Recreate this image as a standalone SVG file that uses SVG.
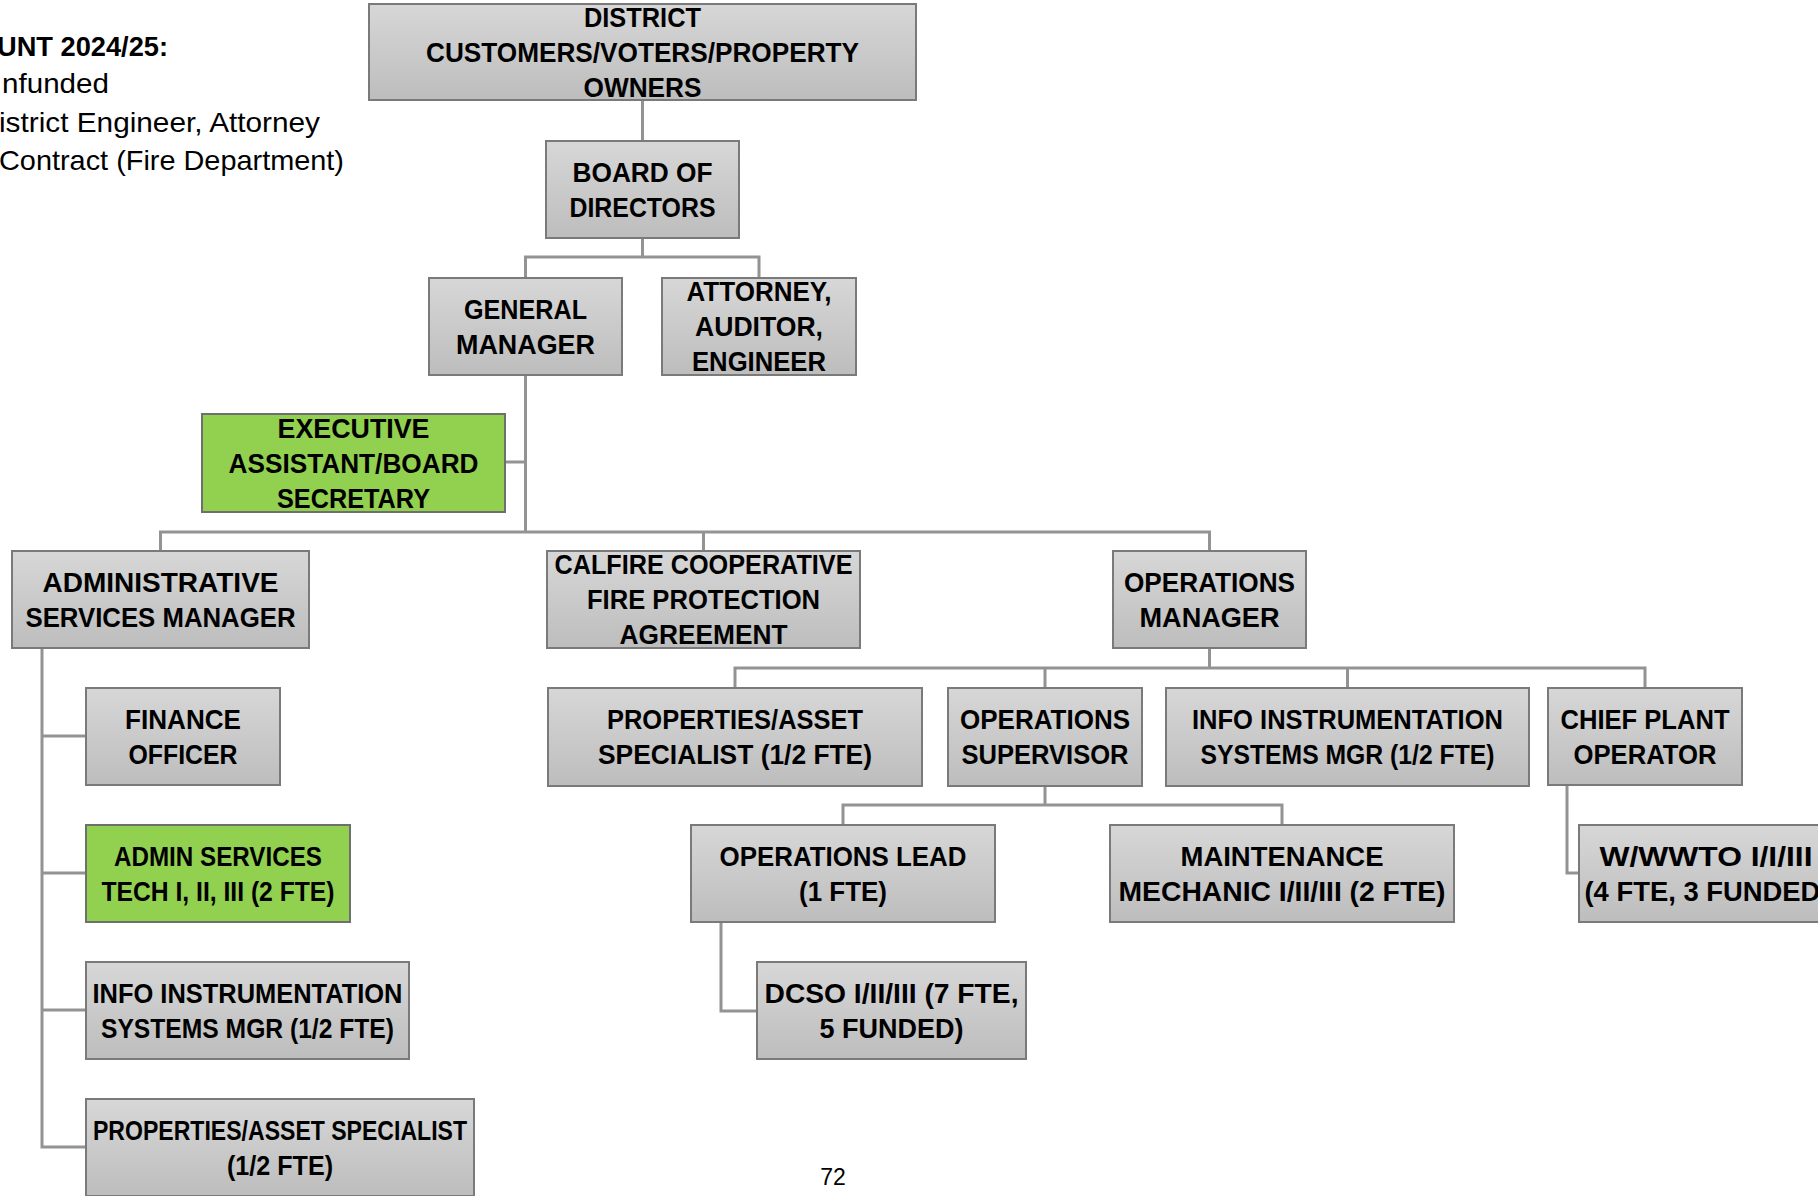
<svg xmlns="http://www.w3.org/2000/svg" width="1818" height="1196" viewBox="0 0 1818 1196">
<defs>
<linearGradient id="g" x1="0" y1="0" x2="0" y2="1">
<stop offset="0" stop-color="#d7d7d7"/>
<stop offset="1" stop-color="#bdbdbd"/>
</linearGradient>
<style>
.box{fill:url(#g);stroke:#7a7a7a;stroke-width:2}
.green{fill:#92d050;stroke:#6f6f6f;stroke-width:2}
.t{font-family:"Liberation Sans",Arial,sans-serif;font-weight:bold;font-size:27px;text-anchor:middle;fill:#000}
.c{fill:none;stroke:#939393;stroke-width:3}
.lg{font-family:"Liberation Sans",Arial,sans-serif;font-size:28px;fill:#000}
</style>
</defs>
<rect width="1818" height="1196" fill="#fff"/>

<g id="legend">
<text class="lg" x="-3" y="56" font-weight="bold" textLength="171" lengthAdjust="spacingAndGlyphs">UNT 2024/25:</text>
<text class="lg" x="2" y="93" textLength="107" lengthAdjust="spacingAndGlyphs">nfunded</text>
<text class="lg" x="-1" y="132" textLength="321" lengthAdjust="spacingAndGlyphs">istrict Engineer, Attorney</text>
<text class="lg" x="-1" y="170" textLength="345" lengthAdjust="spacingAndGlyphs">Contract (Fire Department)</text>
</g>

<g id="connectors">
<path class="c" d="M642.5 100 V141"/>
<path class="c" d="M642.5 238 V257 M525.5 278 V257 H759 V278"/>
<path class="c" d="M525.5 375 V532"/>
<path class="c" d="M505 462 H525.5"/>
<path class="c" d="M160.5 551 V532 H1209.5 V551 M703.5 532 V551"/>
<path class="c" d="M1209.5 648 V668 M735 688 V668 H1645 V688 M1045 668 V688 M1347.5 668 V688"/>
<path class="c" d="M1045 786 V805 M843 825 V805 H1282 V825"/>
<path class="c" d="M42 648 V1147 H86 M42 736 H86 M42 873 H86 M42 1010 H86"/>
<path class="c" d="M1567 785 V873 H1579"/>
<path class="c" d="M721 922 V1011 H757"/>
</g>

<g id="district">
<rect class="box" x="369" y="4" width="547" height="96"/>
<text class="t" x="642.5" y="26.5" textLength="117" lengthAdjust="spacingAndGlyphs">DISTRICT</text>
<text class="t" x="642.5" y="61.5" textLength="433" lengthAdjust="spacingAndGlyphs">CUSTOMERS/VOTERS/PROPERTY</text>
<text class="t" x="642.5" y="96.5" textLength="118" lengthAdjust="spacingAndGlyphs">OWNERS</text>
</g>

<g id="board">
<rect class="box" x="546" y="141" width="193" height="97"/>
<text class="t" x="642.5" y="181.5" textLength="140" lengthAdjust="spacingAndGlyphs">BOARD OF</text>
<text class="t" x="642.5" y="216.5" textLength="146" lengthAdjust="spacingAndGlyphs">DIRECTORS</text>
</g>

<g id="general-manager">
<rect class="box" x="429" y="278" width="193" height="97"/>
<text class="t" x="525.5" y="318.5" textLength="123" lengthAdjust="spacingAndGlyphs">GENERAL</text>
<text class="t" x="525.5" y="353.5" textLength="139" lengthAdjust="spacingAndGlyphs">MANAGER</text>
</g>

<g id="attorney">
<rect class="box" x="662" y="278" width="194" height="97"/>
<text class="t" x="759" y="301" textLength="145" lengthAdjust="spacingAndGlyphs">ATTORNEY,</text>
<text class="t" x="759" y="336" textLength="128" lengthAdjust="spacingAndGlyphs">AUDITOR,</text>
<text class="t" x="759" y="371" textLength="134" lengthAdjust="spacingAndGlyphs">ENGINEER</text>
</g>

<g id="executive-assistant">
<rect class="green" x="202" y="414" width="303" height="98"/>
<text class="t" x="353.5" y="437.5" textLength="152" lengthAdjust="spacingAndGlyphs">EXECUTIVE</text>
<text class="t" x="353.5" y="472.5" textLength="250" lengthAdjust="spacingAndGlyphs">ASSISTANT/BOARD</text>
<text class="t" x="353.5" y="507.5" textLength="153" lengthAdjust="spacingAndGlyphs">SECRETARY</text>
</g>

<g id="admin-services-manager">
<rect class="box" x="12" y="551" width="297" height="97"/>
<text class="t" x="160.5" y="591.5" textLength="236" lengthAdjust="spacingAndGlyphs">ADMINISTRATIVE</text>
<text class="t" x="160.5" y="626.5" textLength="270" lengthAdjust="spacingAndGlyphs">SERVICES MANAGER</text>
</g>

<g id="calfire">
<rect class="box" x="547" y="551" width="313" height="97"/>
<text class="t" x="703.5" y="574" textLength="298" lengthAdjust="spacingAndGlyphs">CALFIRE COOPERATIVE</text>
<text class="t" x="703.5" y="609" textLength="233" lengthAdjust="spacingAndGlyphs">FIRE PROTECTION</text>
<text class="t" x="703.5" y="644" textLength="168" lengthAdjust="spacingAndGlyphs">AGREEMENT</text>
</g>

<g id="operations-manager">
<rect class="box" x="1113" y="551" width="193" height="97"/>
<text class="t" x="1209.5" y="591.5" textLength="171" lengthAdjust="spacingAndGlyphs">OPERATIONS</text>
<text class="t" x="1209.5" y="626.5" textLength="140" lengthAdjust="spacingAndGlyphs">MANAGER</text>
</g>

<g id="properties-asset-ops">
<rect class="box" x="548" y="688" width="374" height="98"/>
<text class="t" x="735" y="729" textLength="256" lengthAdjust="spacingAndGlyphs">PROPERTIES/ASSET</text>
<text class="t" x="735" y="764" textLength="274" lengthAdjust="spacingAndGlyphs">SPECIALIST (1/2 FTE)</text>
</g>

<g id="operations-supervisor">
<rect class="box" x="948" y="688" width="194" height="98"/>
<text class="t" x="1045" y="729" textLength="170" lengthAdjust="spacingAndGlyphs">OPERATIONS</text>
<text class="t" x="1045" y="764" textLength="167" lengthAdjust="spacingAndGlyphs">SUPERVISOR</text>
</g>

<g id="info-instrumentation-ops">
<rect class="box" x="1166" y="688" width="363" height="98"/>
<text class="t" x="1347.5" y="729" textLength="311" lengthAdjust="spacingAndGlyphs">INFO INSTRUMENTATION</text>
<text class="t" x="1347.5" y="764" textLength="294" lengthAdjust="spacingAndGlyphs">SYSTEMS MGR (1/2 FTE)</text>
</g>

<g id="chief-plant-operator">
<rect class="box" x="1548" y="688" width="194" height="97"/>
<text class="t" x="1645" y="729" textLength="169" lengthAdjust="spacingAndGlyphs">CHIEF PLANT</text>
<text class="t" x="1645" y="764" textLength="143" lengthAdjust="spacingAndGlyphs">OPERATOR</text>
</g>

<g id="operations-lead">
<rect class="box" x="691" y="825" width="304" height="97"/>
<text class="t" x="843" y="865.5" textLength="247" lengthAdjust="spacingAndGlyphs">OPERATIONS LEAD</text>
<text class="t" x="843" y="900.5" textLength="88" lengthAdjust="spacingAndGlyphs">(1 FTE)</text>
</g>

<g id="maintenance-mechanic">
<rect class="box" x="1110" y="825" width="344" height="97"/>
<text class="t" x="1282" y="865.5" textLength="203" lengthAdjust="spacingAndGlyphs">MAINTENANCE</text>
<text class="t" x="1282" y="900.5" textLength="327" lengthAdjust="spacingAndGlyphs">MECHANIC I/II/III (2 FTE)</text>
</g>

<g id="wwto">
<rect class="box" x="1579" y="825" width="256" height="97"/>
<text class="t" x="1706" y="865.5" textLength="213" lengthAdjust="spacingAndGlyphs">W/WWTO I/I/III</text>
<text class="t" x="1707" y="900.5" textLength="245" lengthAdjust="spacingAndGlyphs">(4 FTE, 3 FUNDED)</text>
</g>

<g id="dcso">
<rect class="box" x="757" y="962" width="269" height="97"/>
<text class="t" x="891.5" y="1002.5" textLength="254" lengthAdjust="spacingAndGlyphs">DCSO I/II/III (7 FTE,</text>
<text class="t" x="891.5" y="1037.5" textLength="144" lengthAdjust="spacingAndGlyphs">5 FUNDED)</text>
</g>

<g id="finance-officer">
<rect class="box" x="86" y="688" width="194" height="97"/>
<text class="t" x="183" y="728.5" textLength="116" lengthAdjust="spacingAndGlyphs">FINANCE</text>
<text class="t" x="183" y="763.5" textLength="109" lengthAdjust="spacingAndGlyphs">OFFICER</text>
</g>

<g id="admin-services-tech">
<rect class="green" x="86" y="825" width="264" height="97"/>
<text class="t" x="218" y="865.5" textLength="208" lengthAdjust="spacingAndGlyphs">ADMIN SERVICES</text>
<text class="t" x="218" y="900.5" textLength="233" lengthAdjust="spacingAndGlyphs">TECH I, II, III (2 FTE)</text>
</g>

<g id="info-instrumentation-admin">
<rect class="box" x="86" y="962" width="323" height="97"/>
<text class="t" x="247.5" y="1002.5" textLength="310" lengthAdjust="spacingAndGlyphs">INFO INSTRUMENTATION</text>
<text class="t" x="247.5" y="1037.5" textLength="293" lengthAdjust="spacingAndGlyphs">SYSTEMS MGR (1/2 FTE)</text>
</g>

<g id="properties-asset-admin">
<rect class="box" x="86" y="1099" width="388" height="97"/>
<text class="t" x="280" y="1139.5" textLength="374" lengthAdjust="spacingAndGlyphs">PROPERTIES/ASSET SPECIALIST</text>
<text class="t" x="280" y="1174.5" textLength="106" lengthAdjust="spacingAndGlyphs">(1/2 FTE)</text>
</g>

<text x="833" y="1185" font-family="'Liberation Sans',Arial,sans-serif" font-size="23" text-anchor="middle" fill="#000">72</text>
</svg>
